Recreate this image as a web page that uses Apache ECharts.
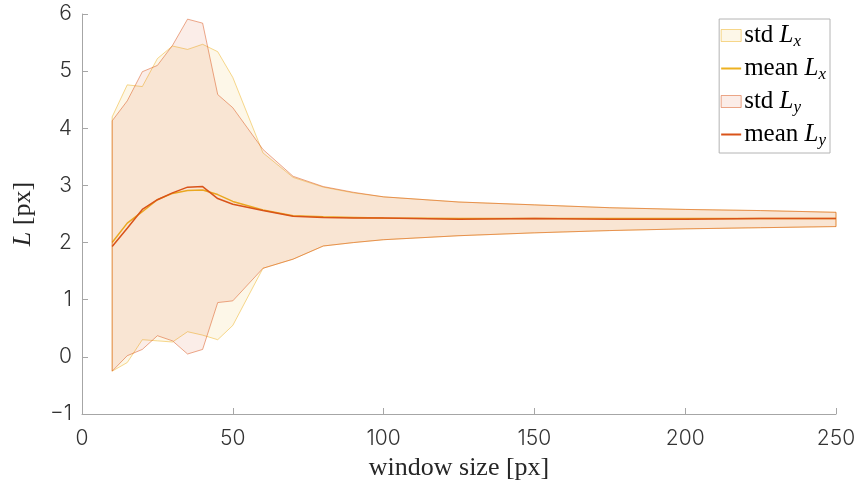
<!DOCTYPE html>
<html>
<head>
<meta charset="utf-8">
<script src="https://cdn.jsdelivr.net/npm/echarts@6/dist/echarts.min.js"></script>
<style>
  html, body { margin: 0; padding: 0; background: #fff; }
  #chart { width: 859px; height: 486px; }
</style>
</head>
<body>
<div id="chart"></div>
<script>
// Window sizes [px] at which the length statistics were evaluated
const windowSize = [10, 15, 20, 25, 30, 35, 40, 45, 50, 60, 70, 80, 90, 100, 125, 150, 175, 200, 225, 250];

// Mean lengths
const meanLx = [2.00, 2.34, 2.54, 2.75, 2.86, 2.91, 2.92, 2.84, 2.72, 2.57, 2.47, 2.45, 2.44, 2.43, 2.42, 2.42, 2.42, 2.42, 2.42, 2.42];
const meanLy = [1.93, 2.25, 2.58, 2.75, 2.87, 2.97, 2.98, 2.77, 2.67, 2.56, 2.46, 2.44, 2.43, 2.43, 2.41, 2.42, 2.41, 2.41, 2.42, 2.42];

// Band edges (mean ± std)
const upperLx = [4.20, 4.76, 4.73, 5.22, 5.44, 5.38, 5.47, 5.34, 4.89, 3.57, 3.14, 2.97, 2.87, 2.80, 2.71, 2.66, 2.61, 2.58, 2.56, 2.53];
const lowerLx = [-0.25, -0.10, 0.30, 0.28, 0.26, 0.44, 0.38, 0.30, 0.55, 1.55, 1.71, 1.94, 2.00, 2.05, 2.12, 2.17, 2.21, 2.24, 2.26, 2.28];
const upperLy = [4.13, 4.48, 4.99, 5.10, 5.45, 5.91, 5.84, 4.59, 4.36, 3.63, 3.16, 2.98, 2.88, 2.80, 2.71, 2.66, 2.61, 2.58, 2.56, 2.53];
const lowerLy = [-0.25, 0.02, 0.13, 0.37, 0.28, 0.05, 0.13, 0.95, 0.98, 1.55, 1.71, 1.94, 2.00, 2.05, 2.12, 2.17, 2.21, 2.24, 2.26, 2.28];

// Axis ticks
const xTicks = [0, 50, 100, 150, 200, 250];
const yTicks = [-1, 0, 1, 2, 3, 4, 5, 6];

const colLx = '#EDB120';
const colLy = '#D95319';
const fillLx = 'rgba(237,177,32,0.10)';
const fillLy = 'rgba(217,83,25,0.10)';
const edgeLx = 'rgba(237,177,32,0.50)';
const edgeLy = 'rgba(217,83,25,0.50)';

const serif = '"Liberation Serif", "DejaVu Serif", serif';
const sans = 'Inter, "DejaVu Sans", sans-serif';

// Closed polygon between upper and lower edges, projected via the axes
function band(upper, lower, fill, stroke) {
  return function (params, api) {
    if (params.dataIndex !== 0) return;
    const pts = [];
    for (let i = 0; i < windowSize.length; i++) pts.push(api.coord([windowSize[i], upper[i]]));
    for (let i = windowSize.length - 1; i >= 0; i--) pts.push(api.coord([windowSize[i], lower[i]]));
    return {
      type: 'polygon',
      shape: { points: pts },
      style: { fill: fill, stroke: stroke, lineWidth: 1 }
    };
  };
}

const bandData = (u, l) => windowSize.map((x, i) => [x, u[i], l[i]]);
const lineData = (m) => windowSize.map((x, i) => [x, m[i]]);

const legendText = {
  'std Lx': 'std {it|L}{sub|x}',
  'mean Lx': 'mean {it|L}{sub|x}',
  'std Ly': 'std {it|L}{sub|y}',
  'mean Ly': 'mean {it|L}{sub|y}'
};

const axisGray = '#a6a6a6';
const tickLabel = { fontFamily: sans, fontSize: 21, fontWeight: 300, color: '#333' };

const chart = echarts.init(document.getElementById('chart'), null, { renderer: 'canvas' });

chart.setOption({
  animation: false,
  backgroundColor: '#fff',
  grid: { left: 82, right: 23, top: 14, bottom: 72, containLabel: false },
  xAxis: {
    type: 'value',
    min: xTicks[0],
    max: xTicks[xTicks.length - 1],
    interval: 50,
    name: 'window size [px]',
    nameLocation: 'middle',
    nameGap: 41,
    nameTextStyle: { fontFamily: serif, fontSize: 26, color: '#262626' },
    axisLine: { show: true, onZero: false, lineStyle: { color: axisGray, width: 1 } },
    axisTick: { show: true, inside: true, length: 6, lineStyle: { color: axisGray } },
    axisLabel: Object.assign({ margin: 14 }, tickLabel),
    splitLine: { show: false }
  },
  yAxis: {
    type: 'value',
    min: yTicks[0],
    max: yTicks[yTicks.length - 1],
    interval: 1,
    name: '{it|L} [px]',
    nameLocation: 'middle',
    nameRotate: 90,
    nameGap: 46,
    nameTextStyle: {
      fontFamily: serif, fontSize: 26, color: '#262626',
      rich: { it: { fontFamily: serif, fontSize: 26, fontStyle: 'italic', color: '#262626' } }
    },
    axisLine: { show: true, onZero: false, lineStyle: { color: axisGray, width: 1 } },
    axisTick: { show: true, inside: true, length: 6, lineStyle: { color: axisGray } },
    axisLabel: Object.assign({
      margin: 10,
      formatter: (v) => String(v).replace('-', '\u2212')
    }, tickLabel),
    splitLine: { show: false }
  },
  legend: {
    orient: 'vertical',
    right: 29,
    top: 19,
    padding: [4, 4, 4, 1],
    itemGap: 6,
    itemWidth: 20,
    itemHeight: 12,
    borderColor: '#b4b4b4',
    borderWidth: 1,
    borderRadius: 0,
    backgroundColor: '#fff',
    formatter: (name) => legendText[name],
    textStyle: {
      fontFamily: serif, fontSize: 25, color: '#000', padding: [0, 0, 0, -2], width: 99,
      rich: {
        it: { fontFamily: serif, fontSize: 25, fontStyle: 'italic', color: '#000' },
        sub: { fontFamily: serif, fontSize: 17, fontStyle: 'italic', color: '#000', padding: [12, 0, 0, 0] }
      }
    },
    data: [
      { name: 'std Lx', icon: 'rect', itemStyle: { color: fillLx, borderColor: edgeLx, borderWidth: 1 } },
      { name: 'mean Lx', itemStyle: { color: 'rgba(0,0,0,0)', borderWidth: 0, opacity: 0 } },
      { name: 'std Ly', icon: 'rect', itemStyle: { color: fillLy, borderColor: edgeLy, borderWidth: 1 } },
      { name: 'mean Ly', itemStyle: { color: 'rgba(0,0,0,0)', borderWidth: 0, opacity: 0 } }
    ]
  },
  series: [
    {
      name: 'std Lx',
      type: 'custom',
      renderItem: band(upperLx, lowerLx, fillLx, edgeLx),
      encode: { x: 0, y: [1, 2] },
      data: bandData(upperLx, lowerLx),
      itemStyle: { color: fillLx },
      z: 1
    },
    {
      name: 'mean Lx',
      type: 'line',
      data: lineData(meanLx),
      symbol: 'none',
      lineStyle: { color: colLx, width: 1.5 },
      itemStyle: { color: colLx },
      z: 2
    },
    {
      name: 'std Ly',
      type: 'custom',
      renderItem: band(upperLy, lowerLy, fillLy, edgeLy),
      encode: { x: 0, y: [1, 2] },
      data: bandData(upperLy, lowerLy),
      itemStyle: { color: fillLy },
      z: 3
    },
    {
      name: 'mean Ly',
      type: 'line',
      data: lineData(meanLy),
      symbol: 'none',
      lineStyle: { color: colLy, width: 1.5 },
      itemStyle: { color: colLy },
      z: 4
    }
  ]
});
</script>
</body>
</html>
